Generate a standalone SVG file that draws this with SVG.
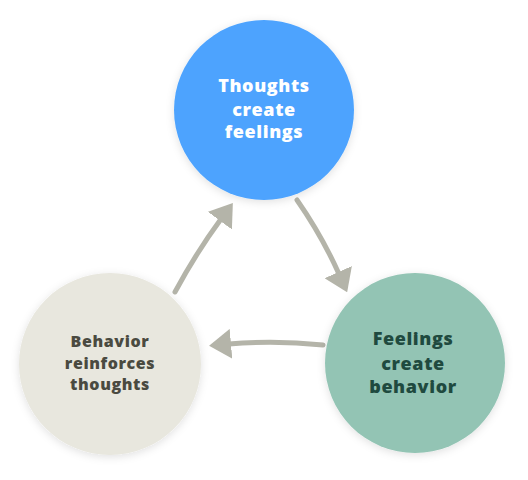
<svg xmlns="http://www.w3.org/2000/svg" width="528" height="480" viewBox="0 0 528 480">
<defs>
<filter id="sh" x="-20%" y="-20%" width="140%" height="140%">
<feDropShadow dx="0" dy="2" stdDeviation="4" flood-color="#000" flood-opacity="0.12"/>
</filter>
<marker id="ah" viewBox="0 0 22 30" refX="2" refY="15" markerWidth="22" markerHeight="30" markerUnits="userSpaceOnUse" orient="auto">
<path d="M0,0 L22,15 L0,30 z" fill="#b4b4a9"/>
</marker>
<style>
.lbl{font-family:"Open Sans","Liberation Sans",sans-serif;font-weight:800;text-anchor:middle;letter-spacing:0.6px}
.con{fill:none;stroke:#b4b4a9;stroke-width:5;stroke-linecap:round;marker-end:url(#ah)}
</style>
</defs>
<rect width="528" height="480" fill="#ffffff"/>
<g id="connectors">
<path class="con" d="M175,292 Q196,253 221,219"/>
<path class="con" d="M297,200 Q322,236 339,274"/>
<path class="con" d="M323,345 Q275,340 229,344"/>
</g>
<g id="thoughts">
<circle cx="264" cy="110" r="90" fill="#4da3fe" filter="url(#sh)"/>
<text class="lbl" x="264" y="92" font-size="18" fill="#ffffff">Thoughts</text>
<text class="lbl" x="264" y="116" font-size="18" fill="#ffffff">create</text>
<text class="lbl" x="264" y="138" font-size="18" fill="#ffffff">feelings</text>
</g>
<g id="feelings">
<circle cx="415" cy="363" r="90" fill="#93c4b4" filter="url(#sh)"/>
<text class="lbl" x="413" y="345" font-size="18" fill="#1f4a3f">Feelings</text>
<text class="lbl" x="413" y="370" font-size="18" fill="#1f4a3f">create</text>
<text class="lbl" x="413" y="393" font-size="18" fill="#1f4a3f">behavior</text>
</g>
<g id="behavior">
<circle cx="110" cy="364" r="91" fill="#e8e7de" filter="url(#sh)"/>
<text class="lbl" x="110" y="347" font-size="16" fill="#4a4a40">Behavior</text>
<text class="lbl" x="110" y="369" font-size="16" fill="#4a4a40">reinforces</text>
<text class="lbl" x="110" y="390" font-size="16" fill="#4a4a40">thoughts</text>
</g>
</svg>
